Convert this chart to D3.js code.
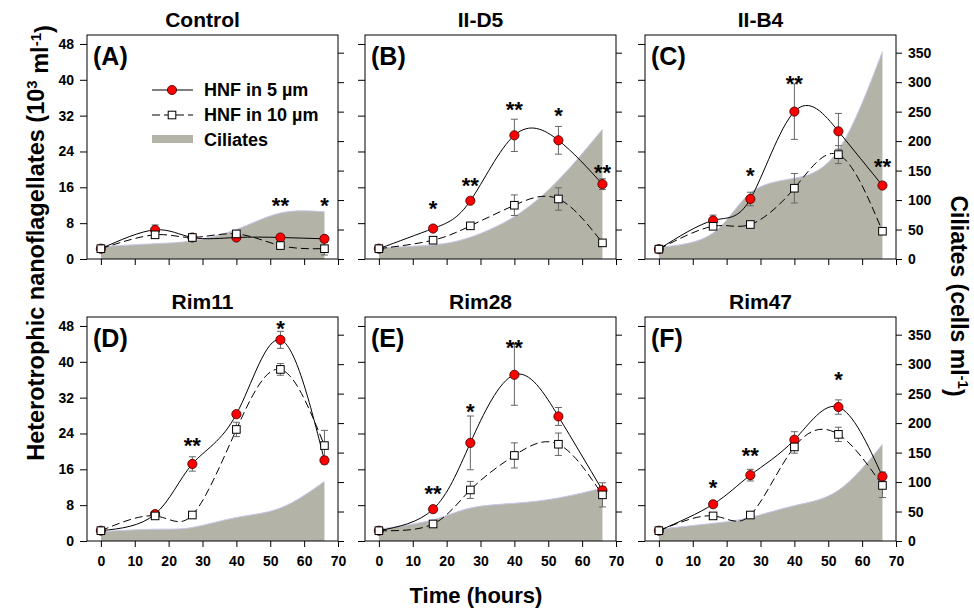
<!DOCTYPE html>
<html>
<head>
<meta charset="utf-8">
<script src="https://cdn.jsdelivr.net/npm/d3@7"></script>
<style>
  body { margin: 0; background: #fff; }
  text { font-family: "Liberation Sans", Arial, sans-serif; font-weight: bold; fill: #000; }
</style>
</head>
<body>
<div id="chart"></div>
<script>
// Panel names and labels
const panelTitles = ["Control", "II-D5", "II-B4", "Rim11", "Rim28", "Rim47"];
const panelLetters = ["(A)", "(B)", "(C)", "(D)", "(E)", "(F)"];

// Sampling times (hours)
const hours = [0, 16, 27, 40, 53, 66];

// HNF in 5 um (10^3 ml-1), mean and error
const hnf5 = [
  [2.3, 6.5, 4.8, 4.8, 4.8, 4.5],
  [2.3, 6.8, 13.0, 27.6, 26.5, 16.7],
  [2.2, 8.6, 13.4, 32.9, 28.5, 16.4],
  [2.3, 6.0, 17.2, 28.3, 44.9, 18.0],
  [2.3, 7.1, 21.9, 37.1, 27.8, 11.3],
  [2.3, 8.2, 14.7, 22.6, 29.9, 14.4]
];
const hnf5Err = [
  [0.3, 1.1, 0.4, 0.5, 0.4, 0.4],
  [0.3, 0.5, 0.6, 3.6, 3.1, 1.2],
  [0.3, 1.2, 1.5, 6.2, 4.0, 0.6],
  [0.3, 0.4, 1.6, 0.6, 1.9, 0.8],
  [0.3, 0.4, 6.0, 6.8, 2.0, 0.8],
  [0.3, 0.5, 1.3, 1.8, 1.6, 1.0]
];

// HNF in 10 um (10^3 ml-1), mean and error
const hnf10 = [
  [2.3, 5.4, 4.8, 5.6, 3.0, 2.3],
  [2.3, 4.2, 7.4, 12.0, 13.4, 3.6],
  [2.2, 7.3, 7.7, 15.8, 23.3, 6.2],
  [2.3, 5.6, 5.8, 24.9, 38.3, 21.3],
  [2.3, 3.8, 11.4, 19.1, 21.6, 10.3],
  [2.3, 5.6, 5.8, 21.0, 23.8, 12.4]
];
const hnf10Err = [
  [0.3, 0.5, 0.4, 0.6, 0.5, 1.4],
  [0.3, 0.4, 0.5, 2.3, 2.5, 0.4],
  [0.3, 0.6, 0.5, 3.3, 2.0, 0.7],
  [0.3, 0.4, 0.6, 1.6, 1.3, 3.4],
  [0.3, 0.4, 1.9, 2.8, 2.5, 2.7],
  [0.3, 0.5, 0.5, 1.4, 1.6, 2.7]
];

// Ciliates (cells ml-1)
const ciliates = [
  [21, 26, 31, 50, 78, 80],
  [19, 24, 37, 72, 134, 220],
  [20, 44, 112, 137, 185, 352],
  [16, 20, 23, 40, 56, 101],
  [20, 36, 56, 64, 73, 90],
  [20, 30, 40, 60, 86, 164]
];

// Significance marks and the HNF level they sit at
const stars = [
  ["", "", "", "", "**", "*"],
  ["", "*", "**", "**", "*", "**"],
  ["", "", "*", "**", "", "**"],
  ["", "", "**", "", "*", ""],
  ["", "**", "*", "**", "", ""],
  ["", "*", "**", "", "*", ""]
];
const starLevel = [
  [0, 0, 0, 0, 12.9, 12.9],
  [0, 12.1, 17.3, 34.2, 33.0, 20.3],
  [0, 0, 19.6, 40.0, 0, 21.6],
  [0, 0, 22.3, 0, 48.4, 0],
  [0, 11.4, 29.8, 44.0, 0, 0],
  [0, 12.9, 20.0, 0, 36.9, 0]
];

const leftTicks = [0, 8, 16, 24, 32, 40, 48];
const rightTicks = [0, 50, 100, 150, 200, 250, 300, 350];
const xTicks = [0, 10, 20, 30, 40, 50, 60, 70];

const width = 974, height = 612;
const colX = [87, 365, 645];
const rowY = [35, 317];
const pw = 251, ph = 224;

const svg = d3.select("#chart").append("svg")
  .attr("width", width)
  .attr("height", height);

const x = d3.scaleLinear().domain([-4.1, 70]).range([0, pw]);
const y = d3.scaleLinear().domain([0, 50]).range([ph, 0]);
const yR = d3.scaleLinear().domain([0, 380]).range([ph, 0]);

const areaGen = d3.area()
  .x(d => x(d.t)).y0(ph).y1(d => yR(d.v))
  .curve(d3.curveNatural);
const edgeGen = d3.line()
  .x(d => x(d.t)).y(d => yR(d.v))
  .curve(d3.curveNatural);
const lineGen = d3.line()
  .x(d => x(d.t)).y(d => y(d.v))
  .curve(d3.curveNatural);

panelTitles.forEach(function(title, i) {
  const col = i % 3, row = Math.floor(i / 3);
  const g = svg.append("g")
    .attr("transform", `translate(${colX[col]},${rowY[row]})`);

  const cil = hours.map((t, k) => ({ t: t, v: ciliates[i][k] }));
  const s5 = hours.map((t, k) => ({ t: t, v: hnf5[i][k], e: hnf5Err[i][k] }));
  const s10 = hours.map((t, k) => ({ t: t, v: hnf10[i][k], e: hnf10Err[i][k] }));

  // clip to the plot frame
  g.append("clipPath").attr("id", "clip" + i)
    .append("rect").attr("width", pw).attr("height", ph);

  // ciliates as filled area
  g.append("path")
    .attr("d", areaGen(cil))
    .attr("fill", "#b4b3a8")
    .attr("clip-path", `url(#clip${i})`);
  g.append("path")
    .attr("d", edgeGen(cil))
    .attr("fill", "none")
    .attr("stroke", "#c6c6ea")
    .attr("stroke-width", 1);

  // HNF lines
  g.append("path")
    .attr("d", lineGen(s5))
    .attr("fill", "none")
    .attr("stroke", "#000")
    .attr("stroke-width", 1);
  g.append("path")
    .attr("d", lineGen(s10))
    .attr("fill", "none")
    .attr("stroke", "#000")
    .attr("stroke-width", 1)
    .attr("stroke-dasharray", "8,4");

  // error bars
  [s5, s10].forEach(function(s) {
    const eb = g.append("g").attr("stroke", "#666").attr("stroke-width", 1);
    s.forEach(function(d) {
      const cx = x(d.t), top = y(d.v + d.e), bot = y(d.v - d.e);
      eb.append("line").attr("x1", cx).attr("x2", cx).attr("y1", top).attr("y2", bot);
      eb.append("line").attr("x1", cx - 3.5).attr("x2", cx + 3.5).attr("y1", top).attr("y2", top);
      eb.append("line").attr("x1", cx - 3.5).attr("x2", cx + 3.5).attr("y1", bot).attr("y2", bot);
    });
  });

  // markers
  g.append("g").selectAll("circle")
    .data(s5).enter().append("circle")
    .attr("cx", d => x(d.t)).attr("cy", d => y(d.v))
    .attr("r", 4.6)
    .attr("fill", "#ff0000")
    .attr("stroke", "#300")
    .attr("stroke-width", 0.8);
  g.append("g").selectAll("rect")
    .data(s10).enter().append("rect")
    .attr("x", d => x(d.t) - 3.8).attr("y", d => y(d.v) - 3.8)
    .attr("width", 7.6).attr("height", 7.6)
    .attr("fill", "#fff")
    .attr("stroke", "#000")
    .attr("stroke-width", 1);

  // significance stars
  hours.forEach(function(t, k) {
    if (!stars[i][k]) return;
    g.append("text")
      .attr("x", x(t)).attr("y", y(starLevel[i][k]) + 11.5)
      .attr("text-anchor", "middle")
      .style("font-size", "22px")
      .text(stars[i][k]);
  });

  // frame
  g.append("rect")
    .attr("width", pw).attr("height", ph)
    .attr("fill", "none")
    .attr("stroke", "#000")
    .attr("stroke-width", 1);

  // axes
  const ax = d3.axisLeft(y).tickValues(leftTicks).tickSize(7).tickPadding(6);
  if (col !== 0) ax.tickFormat("");
  const axL = g.append("g").call(ax);

  const bx = d3.axisBottom(x).tickValues(xTicks).tickSize(6).tickPadding(9);
  if (row === 0) bx.tickFormat("");
  const axB = g.append("g").attr("transform", `translate(0,${ph})`).call(bx);

  const rx = d3.axisRight(yR).tickValues(rightTicks).tickSize(6).tickPadding(6);
  if (col !== 2) rx.tickFormat("");
  const axR = g.append("g").attr("transform", `translate(${pw},0)`).call(rx);

  [axL, axB, axR].forEach(function(a) {
    a.select(".domain").remove();
    a.selectAll("text")
      .style("font-family", "'Liberation Sans', Arial, sans-serif")
      .style("font-weight", "bold")
      .style("font-size", "14px")
      .attr("fill", "#000");
    a.selectAll("line").attr("stroke", "#000");
  });

  // titles and panel letters
  g.append("text")
    .attr("x", pw / 2 - 10).attr("y", -8)
    .attr("text-anchor", "middle")
    .style("font-size", "21px")
    .text(title);
  g.append("text")
    .attr("x", 6).attr("y", 30)
    .style("font-size", "25px")
    .text(panelLetters[i]);

  // legend only in first panel
  if (i === 0) {
    const lg = g.append("g").attr("transform", "translate(65,55)");
    lg.append("line").attr("x1", 0).attr("x2", 41).attr("y1", 0).attr("y2", 0)
      .attr("stroke", "#000");
    lg.append("circle").attr("cx", 20).attr("cy", 0).attr("r", 4.6)
      .attr("fill", "#ff0000").attr("stroke", "#300").attr("stroke-width", 0.8);
    lg.append("line").attr("x1", 0).attr("x2", 41).attr("y1", 25).attr("y2", 25)
      .attr("stroke", "#000").attr("stroke-dasharray", "8,4");
    lg.append("rect").attr("x", 16.2).attr("y", 21.2).attr("width", 7.6).attr("height", 7.6)
      .attr("fill", "#fff").attr("stroke", "#000");
    lg.append("rect").attr("x", 0).attr("y", 45).attr("width", 41).attr("height", 8)
      .attr("fill", "#b4b3a8");
    ["HNF in 5 µm", "HNF in 10 µm", "Ciliates"].forEach(function(s, k) {
      lg.append("text")
        .attr("x", 52).attr("y", 6 + k * 25)
        .style("font-size", "18px")
        .text(s);
    });
  }
});

// axis titles
const yl = svg.append("text")
  .attr("transform", "translate(44,243) rotate(-90)")
  .attr("text-anchor", "middle")
  .style("font-size", "23.5px");
yl.append("tspan").text("Heterotrophic nanoflagellates (10");
yl.append("tspan").attr("dy", "-0.45em").style("font-size", "15px").text("3");
yl.append("tspan").attr("dy", "0.45em").text(" ml");
yl.append("tspan").attr("dy", "-0.45em").style("font-size", "15px").text("-1");
yl.append("tspan").attr("dy", "0.45em").text(")");

const yr = svg.append("text")
  .attr("transform", "translate(951,296) rotate(90)")
  .attr("text-anchor", "middle")
  .style("font-size", "23px");
yr.append("tspan").text("Ciliates (cells ml");
yr.append("tspan").attr("dy", "-0.45em").style("font-size", "15px").text("-1");
yr.append("tspan").attr("dy", "0.45em").text(")");

svg.append("text")
  .attr("x", 476).attr("y", 603)
  .attr("text-anchor", "middle")
  .style("font-size", "22px")
  .text("Time (hours)");
</script>
</body>
</html>
